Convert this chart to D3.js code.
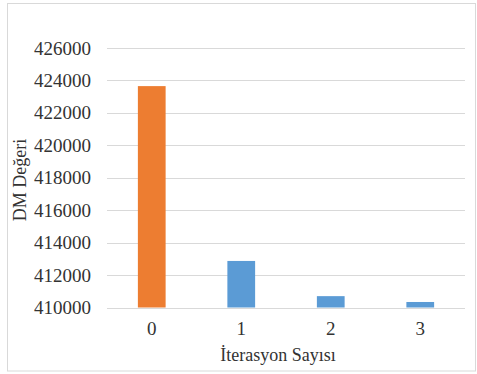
<!DOCTYPE html>
<html>
<head>
<meta charset="utf-8">
<script src="https://cdn.jsdelivr.net/npm/d3@7"></script>
<style>
  html, body { margin: 0; padding: 0; background: #fff; }
  svg { display: block; }
  svg text { font-family: "Liberation Serif", "Times New Roman", Times, "DejaVu Serif", serif !important; fill: #333; }
</style>
</head>
<body>
<script>
// DM value per iteration
const iterations = ["0", "1", "2", "3"];
const dmValues = [423650, 412870, 410700, 410340];
const barColors = ["#ED7D31", "#5B9BD5", "#5B9BD5", "#5B9BD5"];
const yTicks = [410000, 412000, 414000, 416000, 418000, 420000, 422000, 424000, 426000];
const xTitle = "İterasyon Sayısı";
const yTitle = "DM Değeri";

const W = 477, H = 374;
const svg = d3.select("body").append("svg").attr("width", W).attr("height", H);

// chart frame
svg.append("rect")
  .attr("x", 7.5).attr("y", 3.5)
  .attr("width", 468).attr("height", 367.5)
  .attr("fill", "#fff").attr("stroke", "#d9d9d9").attr("stroke-width", 1);

const plot = { left: 107, right: 465, top: 48, bottom: 307.5 };

const x = d3.scaleBand()
  .domain(iterations)
  .range([plot.left, plot.right])
  .paddingInner(0.69)
  .paddingOuter(0.345);

const y = d3.scaleLinear()
  .domain([410000, 426000])
  .range([plot.bottom, plot.top]);

// horizontal gridlines
svg.append("g")
  .selectAll("line")
  .data(yTicks)
  .join("line")
  .attr("x1", plot.left).attr("x2", plot.right)
  .attr("y1", d => Math.round(y(d)) + 0.5)
  .attr("y2", d => Math.round(y(d)) + 0.5)
  .attr("stroke", "#d9d9d9").attr("stroke-width", 1);

// y axis labels
const yAxis = d3.axisLeft(y).tickValues(yTicks).tickSize(0).tickPadding(16).tickFormat(d3.format("d"));
svg.append("g")
  .attr("transform", `translate(${plot.left},0)`)
  .call(yAxis)
  .call(g => g.select(".domain").remove())
  .selectAll("text")
  .attr("font-size", 19);

// bars
svg.append("g")
  .selectAll("rect")
  .data(iterations)
  .join("rect")
  .attr("x", d => x(d))
  .attr("width", x.bandwidth())
  .attr("y", (d, i) => y(dmValues[i]))
  .attr("height", (d, i) => y(410000) - y(dmValues[i]))
  .attr("fill", (d, i) => barColors[i]);

// x axis labels
const xAxis = d3.axisBottom(x).tickSize(0).tickPadding(14);
svg.append("g")
  .attr("transform", `translate(0,${plot.bottom})`)
  .call(xAxis)
  .call(g => g.select(".domain").remove())
  .selectAll("text")
  .attr("font-size", 19);

// axis titles
svg.append("text")
  .attr("x", 278).attr("y", 361)
  .attr("text-anchor", "middle")
  .attr("font-size", 18)
  .text(xTitle);

svg.append("text")
  .attr("transform", "translate(26,180) rotate(-90)")
  .attr("text-anchor", "middle")
  .attr("font-size", 18)
  .text(yTitle);
</script>
</body>
</html>
